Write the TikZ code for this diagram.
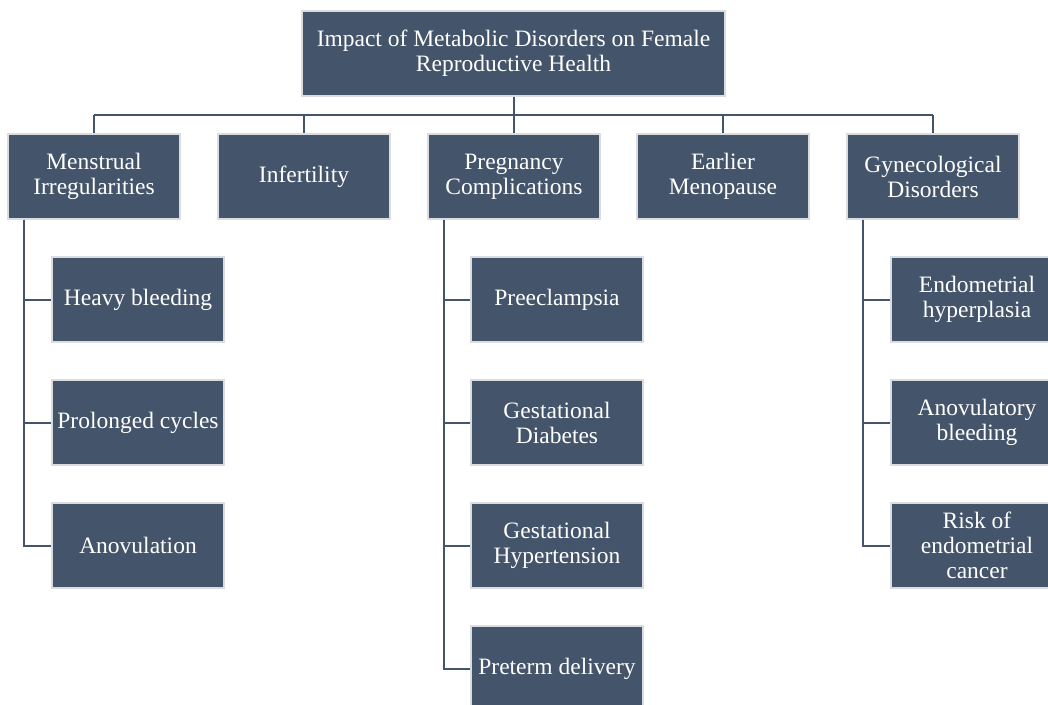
\documentclass[tikz,border=0pt]{standalone}
\usepackage{fontspec}
\setmainfont{Liberation Serif}
\usetikzlibrary{positioning}
\definecolor{SlateFill}{HTML}{44546A}
\definecolor{SlateEdge}{HTML}{D9DCE0}

\begin{document}
\begin{tikzpicture}[x=1pt,y=-1pt,
    box/.style={draw=SlateEdge,line width=1.3pt,fill=SlateFill,text=white,
      minimum width=172pt,minimum height=85pt,inner sep=2pt,align=center,
      font=\fontsize{23.5}{25}\selectfont},
    link/.style={draw=SlateFill,line width=2pt}]
    \useasboundingbox (0,0) rectangle (1048,704);
    \clip (0,0) rectangle (1048,704);

    % Top box
    \node[box,minimum width=423pt] (impact) at (513.5,53.5) {Impact of Metabolic Disorders on Female\\Reproductive Health};

    % Main branches
    \node[box] (menstrual) at (94,176.5) {Menstrual\\Irregularities};
    \node[box] (infertility) at (304,176.5) {Infertility};
    \node[box] (pregnancy) at (514,176.5) {Pregnancy\\Complications};
    \node[box] (menopause) at (723,176.5) {Earlier\\Menopause};
    \node[box] (gyneco) at (933,176.5) {Gynecological\\Disorders};

    % Sub items
    \node[box] (heavy) at (138,299.5) {Heavy bleeding};
    \node[box] (prolonged) at (138,422.5) {Prolonged cycles};
    \node[box] (anovulation) at (138,545.5) {Anovulation};

    \node[box] (preeclampsia) at (557,299.5) {Preeclampsia};
    \node[box] (gdiabetes) at (557,422.5) {Gestational\\Diabetes};
    \node[box] (ghyper) at (557,545.5) {Gestational\\Hypertension};
    \node[box] (preterm) at (557,668.5) {Preterm delivery};

    \node[box] (endohyper) at (977,299.5) {Endometrial\\hyperplasia};
    \node[box] (anobleed) at (977,422.5) {Anovulatory\\bleeding};
    \node[box] (endocancer) at (977,545.5) {Risk of\\endometrial\\cancer};

    % Connectors
    \coordinate (bus) at (513.5,115);
    \draw[link] (impact.south) -- (impact.south |- bus);
    \draw[link] (menstrual.north |- bus) -- (gyneco.north |- bus);
    \draw[link] (menstrual.north |- bus) -- (menstrual.north);
    \draw[link] (infertility.north |- bus) -- (infertility.north);
    \draw[link] (pregnancy.north |- bus) -- (pregnancy.north);
    \draw[link] (menopause.north |- bus) -- (menopause.north);
    \draw[link] (gyneco.north |- bus) -- (gyneco.north);

    \draw[link] ([xshift=17pt]menstrual.south west) |- (heavy.west);
    \draw[link] ([xshift=17pt]menstrual.south west) |- (prolonged.west);
    \draw[link] ([xshift=17pt]menstrual.south west) |- (anovulation.west);

    \draw[link] ([xshift=17pt]pregnancy.south west) |- (preeclampsia.west);
    \draw[link] ([xshift=17pt]pregnancy.south west) |- (gdiabetes.west);
    \draw[link] ([xshift=17pt]pregnancy.south west) |- (ghyper.west);
    \draw[link] ([xshift=17pt]pregnancy.south west) |- (preterm.west);

    \draw[link] ([xshift=17pt]gyneco.south west) |- (endohyper.west);
    \draw[link] ([xshift=17pt]gyneco.south west) |- (anobleed.west);
    \draw[link] ([xshift=17pt]gyneco.south west) |- (endocancer.west);
\end{tikzpicture}
\end{document}
